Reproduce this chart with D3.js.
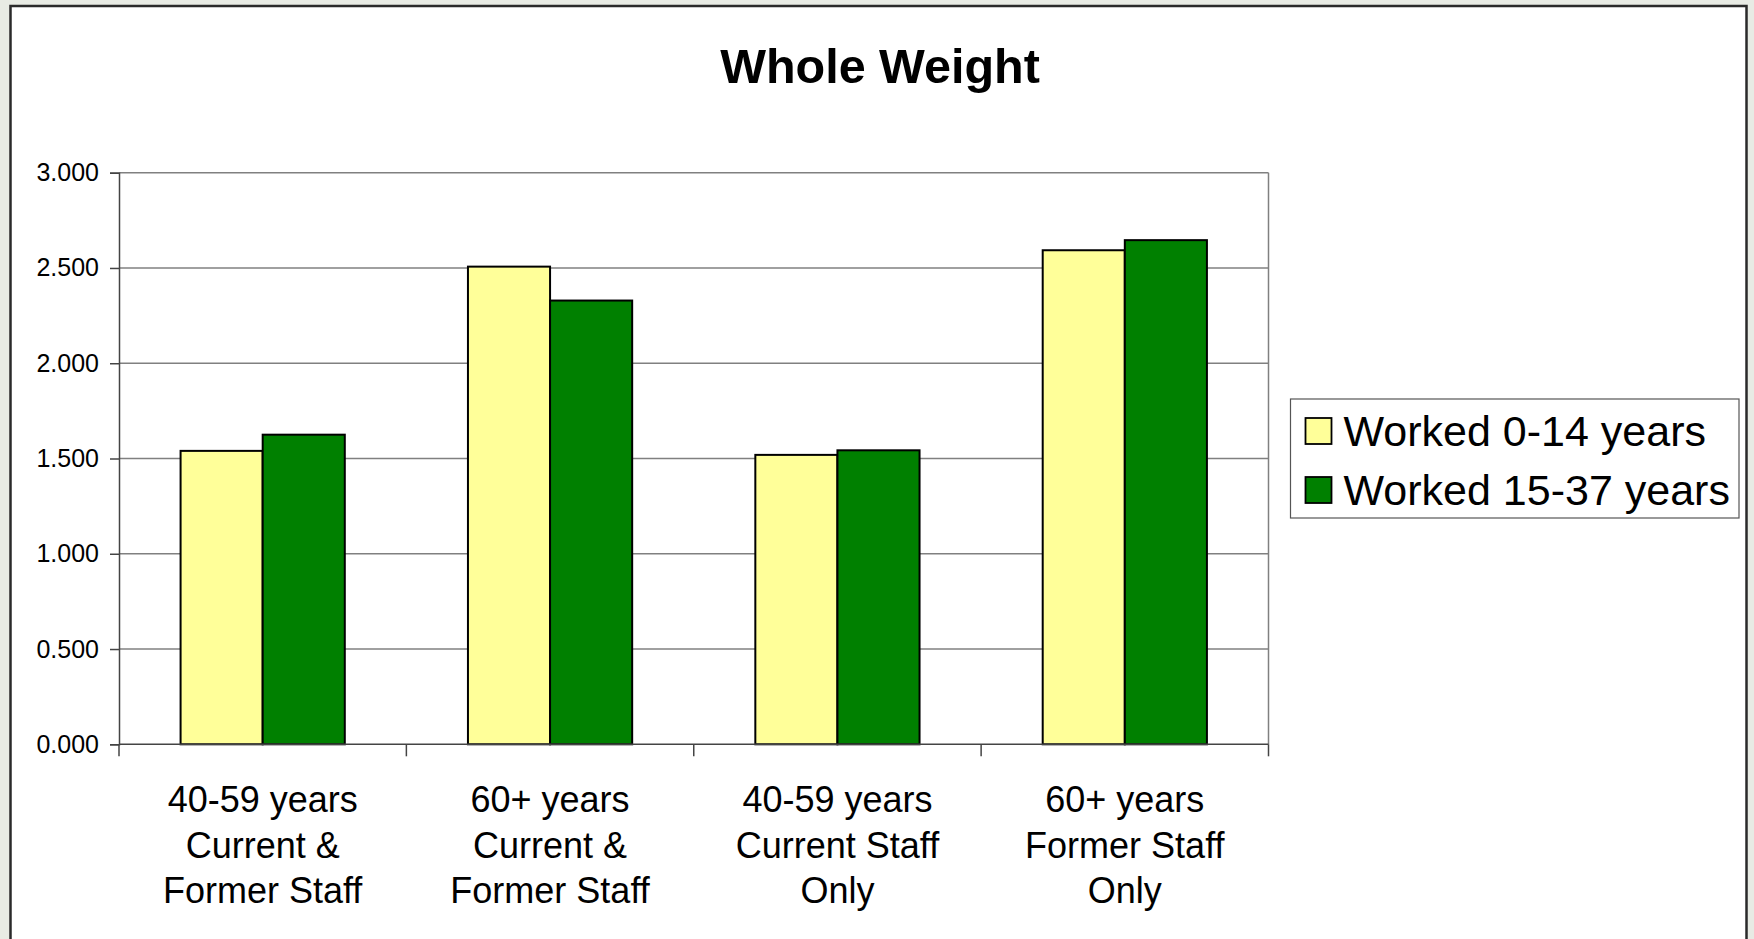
<!DOCTYPE html>
<html>
<head>
<meta charset="utf-8">
<script src="https://cdn.jsdelivr.net/npm/d3@7"></script>
<style>
  body { margin: 0; background: #e8ebe4; }
  svg { display: block; font-family: "Liberation Sans", Arial, sans-serif; }
</style>
</head>
<body>
<svg width="1754" height="939"></svg>
<script>
var categories = [
  ["40-59 years", "Current &", "Former Staff"],
  ["60+ years", "Current &", "Former Staff"],
  ["40-59 years", "Current Staff", "Only"],
  ["60+ years", "Former Staff", "Only"]
];
var seriesNames = ["Worked 0-14 years", "Worked 15-37 years"];
var worked0to14 = [1.540, 2.507, 1.519, 2.593];
var worked15to37 = [1.625, 2.329, 1.543, 2.646];
var yTicks = [0, 0.5, 1, 1.5, 2, 2.5, 3];
var colors = ["#ffff99", "#008000"];

var svg = d3.select("svg");
var plot = {left: 119, right: 1268.5, top: 172.7, bottom: 744.3};

// chart frame (runs off the bottom of the picture)
svg.append("rect")
    .attr("x", 10.5).attr("y", 6)
    .attr("width", 1736).attr("height", 1000)
    .attr("fill", "#fff")
    .attr("stroke", "#2a2a2a")
    .attr("stroke-width", 2.5);

svg.append("text")
    .attr("x", 880).attr("y", 83)
    .attr("text-anchor", "middle")
    .attr("font-size", 48.5)
    .attr("font-weight", "bold")
    .text("Whole Weight");

var idx = d3.range(categories.length);
var x0 = d3.scaleBand()
    .domain(idx)
    .range([plot.left, plot.right])
    .paddingInner(1.5 / 3.5)
    .paddingOuter(0.75 / 3.5);
var x1 = d3.scaleBand()
    .domain([0, 1])
    .range([0, x0.bandwidth()]);
var y = d3.scaleLinear().domain([0, 3]).range([plot.bottom, plot.top]);

// gridlines
svg.append("g").selectAll("line")
    .data(yTicks.filter(function(d) { return d > 0; }))
    .enter().append("line")
    .attr("x1", plot.left).attr("x2", plot.right)
    .attr("y1", function(d) { return y(d); })
    .attr("y2", function(d) { return y(d); })
    .attr("stroke", "#808080")
    .attr("stroke-width", 1.5);

svg.append("line")
    .attr("x1", plot.right).attr("x2", plot.right)
    .attr("y1", plot.top).attr("y2", plot.bottom)
    .attr("stroke", "#808080")
    .attr("stroke-width", 1.5);

// bars
var rows = idx.map(function(i) { return [worked0to14[i], worked15to37[i]]; });
svg.append("g").selectAll("g")
    .data(rows)
    .enter().append("g")
    .attr("transform", function(d, i) { return "translate(" + x0(i) + ",0)"; })
    .selectAll("rect")
    .data(function(d) { return d; })
    .enter().append("rect")
    .attr("x", function(d, j) { return x1(j); })
    .attr("width", x1.bandwidth())
    .attr("y", function(d) { return y(d); })
    .attr("height", function(d) { return y(0) - y(d); })
    .attr("fill", function(d, j) { return colors[j]; })
    .attr("stroke", "#000")
    .attr("stroke-width", 2);

// y axis
var yAxis = svg.append("g")
    .attr("transform", "translate(" + plot.left + ",0)")
    .call(d3.axisLeft(y).tickValues(yTicks).tickFormat(d3.format(".3f")).tickSize(9).tickPadding(11));
yAxis.select(".domain").attr("stroke", "#444").attr("stroke-width", 1.5);
yAxis.selectAll(".tick line").attr("stroke", "#444").attr("stroke-width", 1.5);
yAxis.selectAll("text")
    .attr("font-size", 25)
    .attr("font-family", "Liberation Sans, Arial, sans-serif")
    .attr("fill", "#000");

// x axis: ticks between categories
var bounds = d3.range(categories.length + 1).map(function(i) {
  return plot.left + i * x0.step();
});
svg.append("line")
    .attr("x1", plot.left).attr("x2", plot.right)
    .attr("y1", plot.bottom).attr("y2", plot.bottom)
    .attr("stroke", "#444").attr("stroke-width", 1.5);
svg.append("g").selectAll("line")
    .data(bounds)
    .enter().append("line")
    .attr("x1", function(d) { return d; }).attr("x2", function(d) { return d; })
    .attr("y1", plot.bottom).attr("y2", plot.bottom + 12)
    .attr("stroke", "#444").attr("stroke-width", 1.5);

var labels = svg.append("g").selectAll("text")
    .data(categories)
    .enter().append("text")
    .attr("text-anchor", "middle")
    .attr("font-size", 36)
    .attr("x", function(d, i) { return x0(i) + x0.bandwidth() / 2; })
    .attr("y", 812);
labels.selectAll("tspan")
    .data(function(d) { return d; })
    .enter().append("tspan")
    .attr("x", function() { return d3.select(this.parentNode).attr("x"); })
    .attr("dy", function(d, k) { return k === 0 ? 0 : 45.5; })
    .text(function(d) { return d; });

// legend
var legend = svg.append("g").attr("transform", "translate(1290.5,399)");
legend.append("rect")
    .attr("width", 448.5).attr("height", 119)
    .attr("fill", "#fff")
    .attr("stroke", "#555")
    .attr("stroke-width", 1.2);
var items = legend.selectAll("g.item")
    .data(seriesNames)
    .enter().append("g")
    .attr("class", "item")
    .attr("transform", function(d, i) { return "translate(0," + (i * 59) + ")"; });
items.append("rect")
    .attr("x", 15).attr("y", 19)
    .attr("width", 26).attr("height", 26)
    .attr("fill", function(d, i) { return colors[i]; })
    .attr("stroke", "#000")
    .attr("stroke-width", 1.8);
items.append("text")
    .attr("x", 53).attr("y", 47)
    .attr("font-size", 43)
    .text(function(d) { return d; });
</script>
</body>
</html>
